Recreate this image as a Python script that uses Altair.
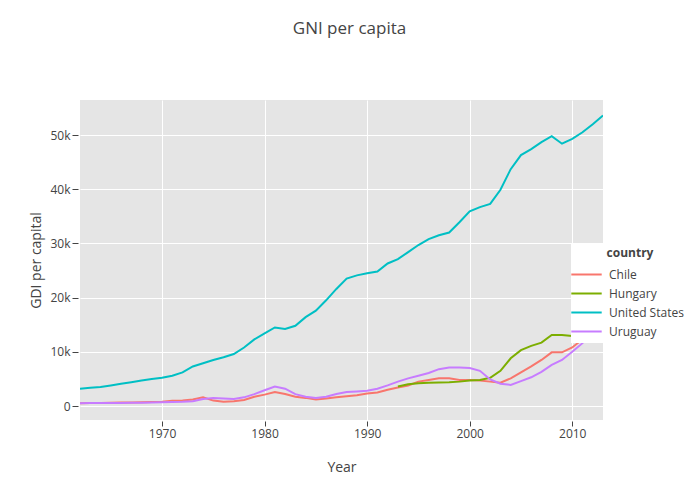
import altair as alt
import pandas as pd

countries = ["Chile", "Hungary", "United States", "Uruguay"]
colors = ["#F8766D", "#7CAE00", "#00BFC4", "#C77CFF"]

years = list(range(1962, 2014))

# GNI per capita, thousands of US$
chile = [0.5, 0.55, 0.55, 0.6, 0.65, 0.65, 0.7, 0.75, 0.8, 0.95,
         1.0, 1.2, 1.6, 1.0, 0.8, 0.9, 1.1, 1.7, 2.1, 2.6,
         2.2, 1.7, 1.5, 1.2, 1.4, 1.6, 1.8, 2.0, 2.3, 2.5,
         3.0, 3.4, 3.8, 4.5, 4.8, 5.1, 5.1, 4.8, 4.8, 4.7,
         4.5, 4.3, 5.1, 6.2, 7.3, 8.5, 9.9, 9.9, 10.8, 12.3,
         14.3, 15.2]

hungary_years = list(range(1993, 2014))
hungary = [3.6, 4.0, 4.2, 4.3, 4.35, 4.4, 4.5, 4.7, 4.8, 5.2,
           6.5, 8.8, 10.3, 11.1, 11.7, 13.1, 13.1, 12.9, 13.0, 12.6,
           13.3]

united_states = [3.2, 3.35, 3.5, 3.8, 4.1, 4.4, 4.7, 5.0, 5.2, 5.6,
                 6.2, 7.3, 7.9, 8.5, 9.0, 9.6, 10.8, 12.3, 13.4, 14.5,
                 14.2, 14.8, 16.4, 17.6, 19.5, 21.6, 23.5, 24.1, 24.5, 24.8,
                 26.3, 27.1, 28.4, 29.7, 30.8, 31.5, 32.0, 33.9, 35.9, 36.7,
                 37.3, 39.9, 43.7, 46.3, 47.4, 48.7, 49.8, 48.4, 49.3, 50.5,
                 52.0, 53.6]

uruguay = [0.5, 0.55, 0.55, 0.55, 0.55, 0.6, 0.6, 0.65, 0.7, 0.75,
           0.8, 0.9, 1.3, 1.5, 1.4, 1.3, 1.6, 2.2, 2.9, 3.6,
           3.2, 2.2, 1.7, 1.5, 1.7, 2.2, 2.6, 2.7, 2.8, 3.2,
           3.8, 4.5, 5.1, 5.6, 6.1, 6.8, 7.1, 7.1, 7.0, 6.5,
           4.9, 4.1, 3.9, 4.6, 5.3, 6.3, 7.6, 8.5, 10.0, 11.6,
           13.6, 15.2]

x_ticks = [1970, 1980, 1990, 2000, 2010]
y_ticks = [0, 10000, 20000, 30000, 40000, 50000]

rows = []
for name, yrs, vals in [("Chile", years, chile),
                        ("Hungary", hungary_years, hungary),
                        ("United States", years, united_states),
                        ("Uruguay", years, uruguay)]:
    for yr, v in zip(yrs, vals):
        rows.append({"country": name, "year": yr, "gni": v * 1000})
df = pd.DataFrame(rows)

FONT = "Open Sans"

chart = alt.Chart(df).mark_line(strokeWidth=2, clip=True).encode(
    x=alt.X("year:Q",
            scale=alt.Scale(domain=[1962, 2013], nice=False, zero=False),
            axis=alt.Axis(title="Year", values=x_ticks, format="d",
                          offset=1, tickSize=5, labelPadding=2, titlePadding=21)),
    y=alt.Y("gni:Q",
            scale=alt.Scale(domain=[-2580, 56460], nice=False, zero=False),
            axis=alt.Axis(title="GDI per capital", values=y_ticks,
                          labelExpr="datum.value == 0 ? '0' : format(datum.value / 1000, 'd') + 'k'",
                          offset=2, tickSize=6, labelPadding=2, titlePadding=6)),
    color=alt.Color("country:N",
                    scale=alt.Scale(domain=countries, range=colors),
                    legend=alt.Legend(
                        title="country", orient="none", legendX=491, legendY=143,
                        fillColor="white", padding=5, titleAnchor="middle",
                        titleFontSize=12, titleFontWeight="bold", titleColor="#444",
                        titleFont=FONT, titlePadding=4,
                        labelFont=FONT, labelFontSize=12, labelColor="#444",
                        symbolType="M-1.6,0H1.6", symbolSize=361,
                        symbolStrokeWidth=2, labelOffset=12, rowPadding=2)),
).properties(
    width=523, height=320,
    title=alt.TitleParams("GNI per capita", fontSize=17, font=FONT,
                          fontWeight="normal", color="#444", anchor="middle",
                          dx=8, offset=49, baseline="alphabetic"),
    padding={"left": 72, "top": 92, "right": 89, "bottom": 72},
    autosize="none",
).configure_view(
    fill="#E5E5E5", stroke=None
).configure_axis(
    grid=True, gridColor="white", gridWidth=1, domain=False,
    tickColor="#444", tickWidth=1,
    labelColor="#444", labelFontSize=12, labelFont=FONT,
    titleColor="#444", titleFontSize=14, titleFont=FONT, titleFontWeight="normal",
)

chart.save("out.html", embed_options={"renderer": "svg", "actions": False})
